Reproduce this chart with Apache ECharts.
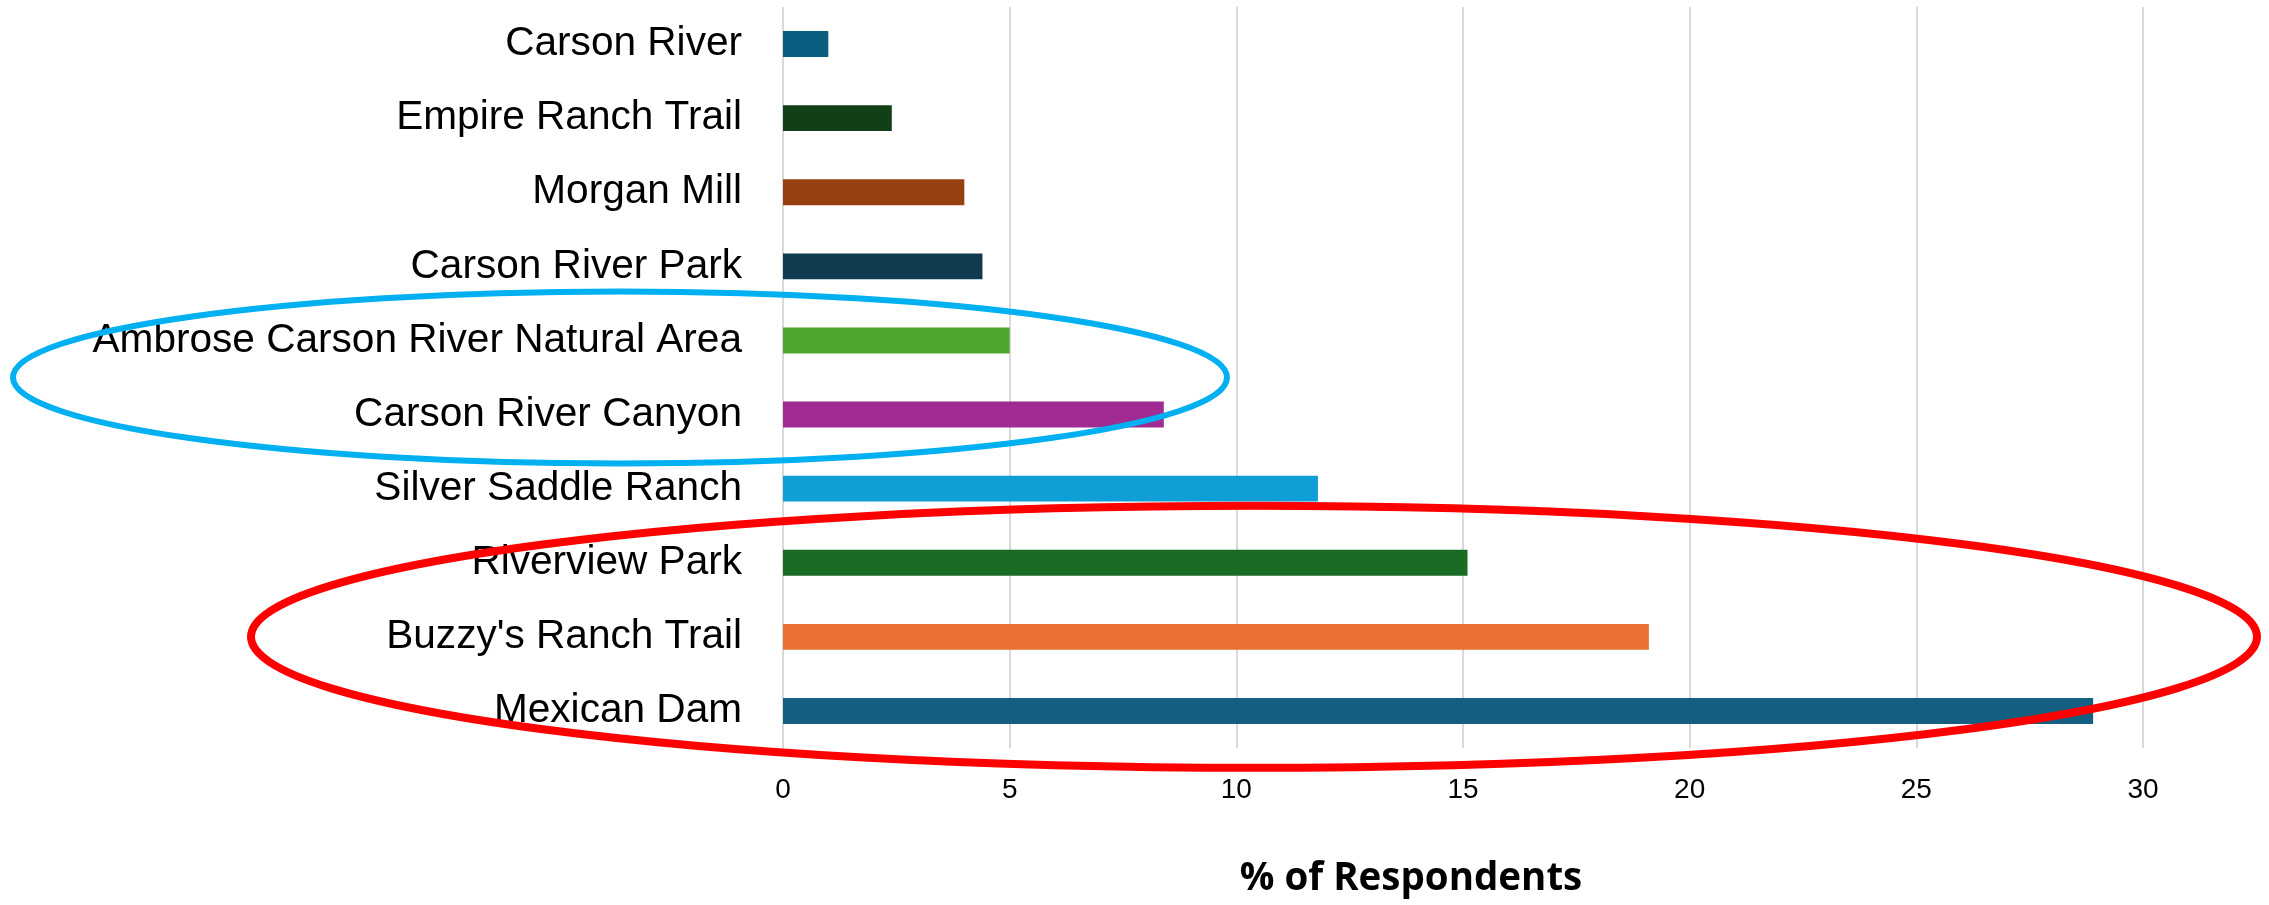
<!DOCTYPE html>
<html>
<head>
<meta charset="utf-8">
<script src="https://cdn.jsdelivr.net/npm/echarts@6/dist/echarts.min.js"></script>
<style>
  html, body { margin: 0; padding: 0; background: #ffffff; }
  #chart { width: 2269px; height: 905px; }
</style>
</head>
<body>
<div id="chart"></div>
<script>
// Sites, listed top to bottom
const sites = [
  'Carson River',
  'Empire Ranch Trail',
  'Morgan Mill',
  'Carson River Park',
  'Ambrose Carson River Natural Area',
  'Carson River Canyon',
  'Silver Saddle Ranch',
  'Riverview Park',
  "Buzzy's Ranch Trail",
  'Mexican Dam'
];

// Share of respondents per site (%)
const percentValues = [1.0, 2.4, 4.0, 4.4, 5.0, 8.4, 11.8, 15.1, 19.1, 28.9];

// One colour per bar
const barColors = [
  '#0A5F80', '#123F17', '#964011', '#0F3A4F', '#4EA72E',
  '#A02B93', '#0F9ED5', '#196B24', '#E97132', '#156082'
];

// Value axis ticks
const xTicks = [0, 5, 10, 15, 20, 25, 30];
const xAxisTitle = '% of Respondents';

const chart = echarts.init(document.getElementById('chart'), null, { renderer: 'canvas' });

const option = {
  animation: false,
  backgroundColor: '#ffffff',
  grid: { left: 783, right: 126, top: 7, bottom: 157, containLabel: false },
  xAxis: {
    type: 'value',
    min: xTicks[0],
    max: xTicks[xTicks.length - 1],
    interval: xTicks[1] - xTicks[0],
    axisLine: { show: false },
    axisTick: { show: false },
    splitLine: { show: true, lineStyle: { color: '#D9D9D9', width: 2 } },
    axisLabel: {
      margin: 28,
      color: '#000000',
      fontFamily: 'Liberation Sans',
      fontSize: 28
    },
    name: xAxisTitle,
    nameLocation: 'middle',
    nameGap: 112,
    nameTextStyle: {
      color: '#000000',
      fontFamily: 'Open Sans',
      fontWeight: 'bold',
      fontSize: 38.5,
      // title sits a little left of the plot centre
      padding: [0, 104, 0, 0]
    }
  },
  yAxis: {
    type: 'category',
    inverse: true,
    data: sites,
    axisLine: { show: false },
    axisTick: { show: false },
    splitLine: { show: false },
    axisLabel: {
      margin: 41,
      color: '#000000',
      fontFamily: 'Liberation Sans',
      fontSize: 40.6
    }
  },
  series: [{
    type: 'bar',
    data: percentValues.map((v, i) => ({ value: v, itemStyle: { color: barColors[i] } })),
    barWidth: '35%',
    silent: true
  }]
};

chart.setOption(option);

// Highlight ellipses, anchored vertically on the categories they enclose
const yAt = (name) => chart.convertToPixel({ yAxisIndex: 0 }, name);
const blueCy = (yAt(sites[4]) + yAt(sites[5])) / 2;
const redCy = (yAt(sites[7]) + yAt(sites[9])) / 2;

chart.setOption({
  graphic: [
    {
      type: 'ellipse',
      shape: { cx: 620, cy: blueCy, rx: 607, ry: 86 },
      style: { fill: 'none', stroke: '#00B0F0', lineWidth: 6 },
      z: 100
    },
    {
      type: 'ellipse',
      shape: { cx: 1254, cy: redCy, rx: 1003, ry: 131 },
      style: { fill: 'none', stroke: '#FF0000', lineWidth: 8 },
      z: 100
    }
  ]
});
</script>
</body>
</html>
